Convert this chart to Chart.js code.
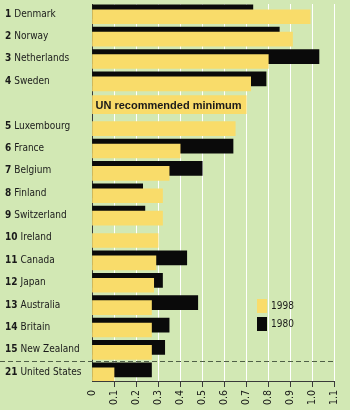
<!DOCTYPE html>
<html>
<head>
<meta charset="utf-8">
<script src="https://cdn.jsdelivr.net/npm/chart.js@4.4.1/dist/chart.umd.min.js"></script>
<style>
  html, body { margin: 0; padding: 0; background: #d2e8b4; }
</style>
</head>
<body>
<canvas id="aidChart" width="350" height="410"></canvas>
<script>
// Official development aid, % of GNP
const ranks     = ['1', '2', '3', '4', '', '5', '6', '7', '8', '9', '10', '11', '12', '13', '14', '15', '21'];
const countries = ['Denmark', 'Norway', 'Netherlands', 'Sweden', '', 'Luxembourg', 'France', 'Belgium',
                   'Finland', 'Switzerland', 'Ireland', 'Canada', 'Japan', 'Australia', 'Britain',
                   'New Zealand', 'United States'];
const aid1998 = [0.99, 0.91, 0.80, 0.72, null, 0.65, 0.40, 0.35, 0.32, 0.32, 0.30, 0.29, 0.28, 0.27, 0.27, 0.27, 0.10];
const aid1980 = [0.73, 0.85, 1.03, 0.79, null, null, 0.64, 0.50, 0.23, 0.24, null, 0.43, 0.32, 0.48, 0.35, 0.33, 0.27];
const unMinimum = 0.7;
const unLabel = 'UN recommended minimum';
const unRow = 4;
const seriesNames = ['1998', '1980'];
const xTicks = [0, 0.1, 0.2, 0.3, 0.4, 0.5, 0.6, 0.7, 0.8, 0.9, 1.0, 1.1];

const GREEN = '#d2e8b4';
const YELLOW = '#f9dc6a';
const BLACK = '#0a0a0a';
const INK = '#1a1a1a';
const NARROW = '"Liberation Sans Narrow", "DejaVu Sans Condensed", sans-serif';

// each row: 1998 bar sits a bit lower, 1980 bar a bit higher (behind)
const toPoints = (arr, shift) => arr
  .map((v, i) => ({ x: v, y: i + shift }))
  .filter(p => p.x !== null);

const extras = {
  id: 'extras',
  beforeDraw(chart) {
    const { ctx } = chart;
    ctx.save();
    ctx.fillStyle = GREEN;
    ctx.fillRect(0, 0, chart.width, chart.height);
    ctx.restore();
  },
  afterDatasetsDraw(chart) {
    const { ctx, chartArea, scales: { y } } = chart;
    ctx.save();
    ctx.textBaseline = 'middle';
    ctx.fillStyle = INK;

    // row labels: bold rank + name
    countries.forEach((name, i) => {
      if (!name) return;
      const py = y.getPixelForValue(i);
      ctx.font = 'bold 10px ' + NARROW;
      ctx.fillText(ranks[i], 5, py);
      const w = ctx.measureText(ranks[i]).width + 3;
      ctx.font = '10px ' + NARROW;
      ctx.fillText(name, 5 + w, py);
    });

    // text inside the UN bar
    const unBar = chart.getDatasetMeta(2).data[0];
    ctx.font = 'bold 11px "Liberation Sans", sans-serif';
    ctx.fillText(unLabel, unBar.base + 3, unBar.y + 1);

    // dashed separator before United States
    const dy = Math.round(y.getPixelForValue(15.5)) + 0.5;
    ctx.strokeStyle = '#4f5f47';
    ctx.lineWidth = 1;
    ctx.setLineDash([5, 3]);
    ctx.beginPath();
    ctx.moveTo(0, dy);
    ctx.lineTo(chartArea.right, dy);
    ctx.stroke();
    ctx.setLineDash([]);

    // legend
    const lx = 257, ly = 299;
    [0, 1].forEach(k => {
      const ds = chart.data.datasets[k];
      ctx.fillStyle = ds.backgroundColor;
      ctx.fillRect(lx, ly + k * 18, 10, 14);
      ctx.fillStyle = INK;
      ctx.font = '10px ' + NARROW;
      ctx.fillText(ds.label, lx + 14, ly + k * 18 + 7);
    });
    ctx.restore();
  }
};

new Chart(document.getElementById('aidChart'), {
  type: 'bar',
  data: {
    datasets: [
      { label: seriesNames[0], data: toPoints(aid1998, 0.12), backgroundColor: YELLOW, barThickness: 14 },
      { label: seriesNames[1], data: toPoints(aid1980, -0.1), backgroundColor: BLACK, barThickness: 14 },
      { label: 'UN', data: [{ x: unMinimum, y: unRow + 0.05 }], backgroundColor: YELLOW, barThickness: 18 }
    ]
  },
  options: {
    indexAxis: 'y',
    responsive: false,
    devicePixelRatio: 1,
    animation: false,
    layout: { padding: { top: 4, right: 12, left: 0, bottom: 0 } },
    datasets: { bar: { grouped: false, borderWidth: 0 } },
    plugins: { legend: { display: false }, tooltip: { enabled: false } },
    scales: {
      x: {
        type: 'linear',
        position: 'bottom',
        min: 0,
        max: 1.1,
        afterBuildTicks: s => { s.ticks = xTicks.map(v => ({ value: v })); },
        afterFit: s => { s.height = 29; },
        border: { color: '#3a3a3a', width: 1 },
        grid: {
          color: '#ffffff',
          lineWidth: 1,
          tickLength: 6,
          tickColor: c => c.index === 0 ? 'rgba(0,0,0,0)' : '#3a3a3a'
        },
        ticks: {
          autoSkip: false,
          minRotation: 90,
          maxRotation: 90,
          padding: 3,
          color: INK,
          font: { family: NARROW, size: 10.5 },
          callback: v => v === 0 ? '0' : Number(v).toFixed(1)
        }
      },
      y: {
        type: 'linear',
        reverse: true,
        offset: false,
        min: -0.45,
        max: 16.4,
        afterFit: s => { s.width = 92; },
        border: { color: '#3a3a3a', width: 1 },
        grid: { color: 'rgba(0,0,0,0)', drawTicks: false, offset: false },
        ticks: { display: false }
      }
    }
  },
  plugins: [extras]
});
</script>
</body>
</html>
